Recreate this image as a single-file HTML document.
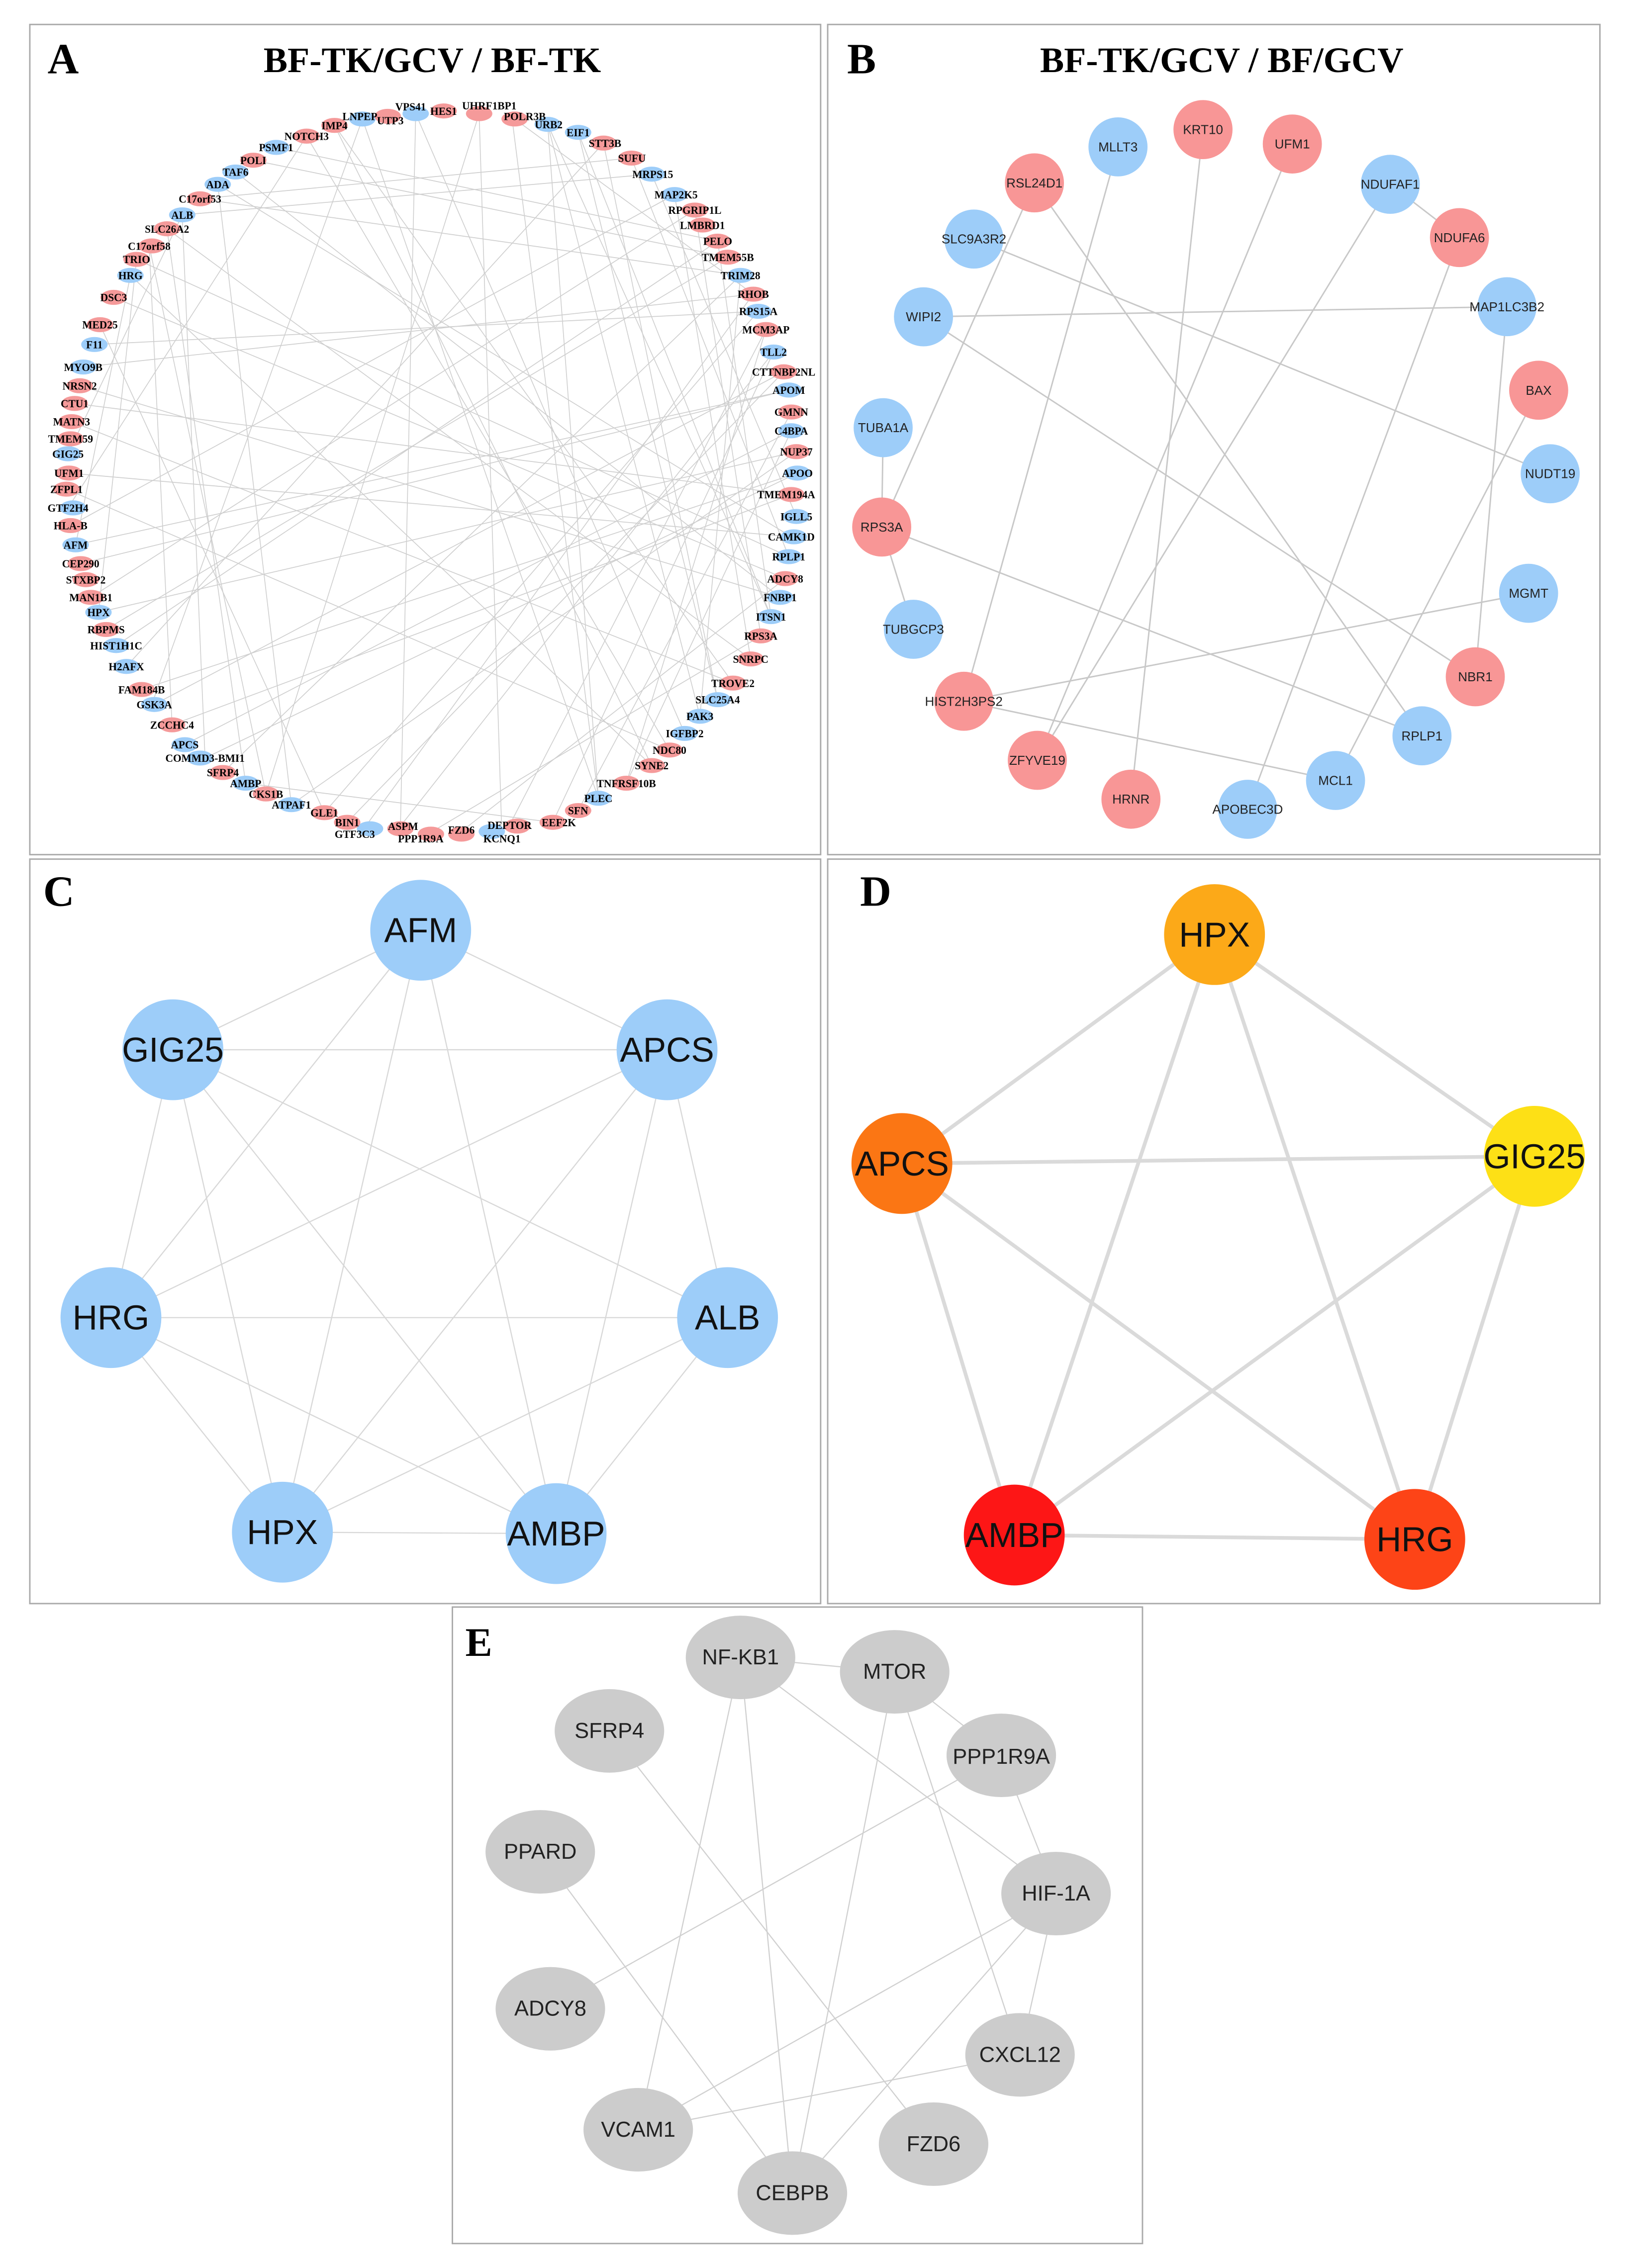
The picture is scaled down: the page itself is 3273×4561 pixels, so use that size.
<!DOCTYPE html>
<html><head><meta charset="utf-8"><style>html,body{margin:0;padding:0;background:#fff}svg{display:block}</style></head>
<body>
<svg xmlns="http://www.w3.org/2000/svg" width="3273" height="4561" viewBox="0 0 1130 1575" preserveAspectRatio="none">
<rect width="1130" height="1575" fill="#fff"/>
<g fill="none" stroke="#aaa" stroke-width="1">
<rect x="20.7" y="17" width="548.9" height="576.5"/>
<rect x="574.5" y="17" width="536" height="576.5"/>
<rect x="20.7" y="596.6" width="548.9" height="517"/>
<rect x="574.5" y="596.6" width="536" height="517"/>
<rect x="314" y="1116" width="479" height="442"/>
</g>
<g font-family="Liberation Serif, serif" font-weight="bold" fill="#000">
<text x="33" y="51" font-size="30">A</text>
<text x="300" y="50" font-size="25" text-anchor="middle">BF-TK/GCV / BF-TK</text>
<text x="588" y="51" font-size="30">B</text>
<text x="848" y="50" font-size="25" text-anchor="middle">BF-TK/GCV / BF/GCV</text>
<text x="30" y="629" font-size="30">C</text>
<text x="597" y="629" font-size="30">D</text>
<text x="323" y="1150" font-size="28">E</text>
</g>

<!-- Panel A -->
<g transform="translate(17.26,13.81) scale(0.3523,0.372)">
<g stroke="#cfcfcf" stroke-width="1.6">
<line x1="665" y1="185" x2="1130" y2="1453"/><line x1="665" y1="185" x2="250" y2="1278"/>
<line x1="770" y1="175" x2="1300" y2="1332"/><line x1="895" y1="175" x2="940" y2="1528"/>
<line x1="895" y1="175" x2="475" y2="1445"/><line x1="965" y1="185" x2="1435" y2="512"/>
<line x1="1030" y1="195" x2="1470" y2="1114"/><line x1="1090" y1="210" x2="1365" y2="1269"/>
<line x1="1140" y1="230" x2="200" y2="1207"/><line x1="1195" y1="258" x2="1505" y2="1002"/>
<line x1="1235" y1="288" x2="310" y2="364"/><line x1="1280" y1="326" x2="1430" y2="1193"/>
<line x1="1320" y1="355" x2="1450" y2="1150"/><line x1="1365" y1="413" x2="180" y2="1168"/>
<line x1="1385" y1="443" x2="450" y2="262"/><line x1="1410" y1="477" x2="345" y2="334"/>
<line x1="1435" y1="512" x2="115" y2="648"/><line x1="1435" y1="512" x2="660" y2="1520"/>
<line x1="1445" y1="544" x2="590" y2="1480"/><line x1="1460" y1="578" x2="1185" y2="1425"/>
<line x1="1475" y1="620" x2="1040" y2="1498"/><line x1="1495" y1="657" x2="255" y2="1278"/>
<line x1="1505" y1="691" x2="100" y2="980"/><line x1="1510" y1="732" x2="1090" y2="1476"/>
<line x1="1510" y1="767" x2="315" y2="1353"/><line x1="1520" y1="806" x2="145" y2="1106"/>
<line x1="1522" y1="846" x2="355" y2="1378"/><line x1="1510" y1="886" x2="98" y2="716"/>
<line x1="1520" y1="927" x2="1235" y2="288"/><line x1="1510" y1="965" x2="380" y2="307"/>
<line x1="1505" y1="1002" x2="220" y2="447"/><line x1="1498" y1="1043" x2="860" y2="1515"/>
<line x1="1488" y1="1078" x2="415" y2="284"/><line x1="1470" y1="1114" x2="1090" y2="210"/>
<line x1="1450" y1="1150" x2="780" y2="1528"/><line x1="1430" y1="1193" x2="280" y2="390"/>
<line x1="1395" y1="1238" x2="610" y2="197"/><line x1="1365" y1="1269" x2="1140" y2="230"/>
<line x1="1330" y1="1300" x2="1030" y2="195"/><line x1="1270" y1="1363" x2="555" y2="217"/>
<line x1="1235" y1="1392" x2="208" y2="477"/><line x1="1185" y1="1425" x2="1510" y2="767"/>
<line x1="1130" y1="1453" x2="960" y2="185"/><line x1="1040" y1="1498" x2="435" y2="1425"/>
<line x1="955" y1="1503" x2="1460" y2="578"/><line x1="740" y1="1505" x2="1475" y2="620"/>
<line x1="635" y1="1498" x2="1495" y2="657"/><line x1="525" y1="1465" x2="1520" y2="806"/>
<line x1="475" y1="1445" x2="245" y2="422"/><line x1="390" y1="1405" x2="1410" y2="477"/>
<line x1="290" y1="1316" x2="1510" y2="886"/><line x1="230" y1="1250" x2="1522" y2="846"/>
<line x1="160" y1="1138" x2="1385" y2="443"/><line x1="130" y1="1078" x2="1320" y2="355"/>
<line x1="110" y1="1015" x2="1505" y2="691"/><line x1="90" y1="944" x2="1280" y2="326"/>
<line x1="85" y1="911" x2="555" y2="217"/><line x1="82" y1="876" x2="1270" y2="1363"/>
<line x1="87" y1="846" x2="1510" y2="965"/><line x1="85" y1="810" x2="310" y2="364"/>
<line x1="92" y1="750" x2="1395" y2="1238"/><line x1="108" y1="683" x2="1488" y2="1078"/>
<line x1="137" y1="606" x2="1445" y2="544"/><line x1="148" y1="569" x2="590" y2="1480"/>
<line x1="175" y1="518" x2="1498" y2="1043"/><line x1="208" y1="477" x2="100" y2="980"/>
<line x1="220" y1="447" x2="145" y2="1106"/><line x1="280" y1="390" x2="435" y2="1425"/>
<line x1="345" y1="334" x2="1195" y2="258"/><line x1="380" y1="307" x2="525" y2="1465"/>
<line x1="495" y1="238" x2="1365" y2="413"/><line x1="610" y1="197" x2="1235" y2="1392"/>
<line x1="770" y1="175" x2="740" y2="1505"/><line x1="1030" y1="195" x2="1130" y2="1453"/>
<line x1="245" y1="422" x2="290" y2="1316"/><line x1="310" y1="364" x2="355" y2="1378"/>
<line x1="1365" y1="413" x2="1470" y2="1114"/><line x1="1410" y1="477" x2="1330" y2="1300"/>
</g>
<g>
<g fill="#9dcdf9">
<ellipse cx="665" cy="185" rx="26" ry="14"/><ellipse cx="770" cy="175" rx="26" ry="14"/>
<ellipse cx="1030" cy="195" rx="26" ry="14"/><ellipse cx="1090" cy="210" rx="26" ry="14"/>
<ellipse cx="1235" cy="288" rx="26" ry="14"/><ellipse cx="1280" cy="326" rx="26" ry="14"/>
<ellipse cx="1410" cy="477" rx="26" ry="14"/><ellipse cx="1445" cy="544" rx="26" ry="14"/>
<ellipse cx="1475" cy="620" rx="26" ry="14"/><ellipse cx="1505" cy="691" rx="26" ry="14"/>
<ellipse cx="1510" cy="767" rx="26" ry="14"/><ellipse cx="1522" cy="846" rx="26" ry="14"/>
<ellipse cx="1520" cy="927" rx="26" ry="14"/><ellipse cx="1515" cy="965" rx="26" ry="14"/>
<ellipse cx="1505" cy="1002" rx="26" ry="14"/><ellipse cx="1488" cy="1078" rx="26" ry="14"/>
<ellipse cx="1470" cy="1114" rx="26" ry="14"/><ellipse cx="1365" cy="1269" rx="26" ry="14"/>
<ellipse cx="1330" cy="1300" rx="26" ry="14"/><ellipse cx="1300" cy="1332" rx="26" ry="14"/>
<ellipse cx="1130" cy="1453" rx="26" ry="14"/><ellipse cx="920" cy="1515" rx="26" ry="14"/>
<ellipse cx="680" cy="1510" rx="26" ry="14"/><ellipse cx="525" cy="1465" rx="26" ry="14"/>
<ellipse cx="435" cy="1425" rx="26" ry="14"/><ellipse cx="345" cy="1378" rx="26" ry="14"/>
<ellipse cx="315" cy="1353" rx="26" ry="14"/><ellipse cx="255" cy="1278" rx="26" ry="14"/>
<ellipse cx="200" cy="1207" rx="26" ry="14"/><ellipse cx="180" cy="1168" rx="26" ry="14"/>
<ellipse cx="145" cy="1106" rx="26" ry="14"/><ellipse cx="100" cy="980" rx="26" ry="14"/>
<ellipse cx="95" cy="911" rx="26" ry="14"/><ellipse cx="85" cy="810" rx="26" ry="14"/>
<ellipse cx="115" cy="648" rx="26" ry="14"/><ellipse cx="137" cy="606" rx="26" ry="14"/>
<ellipse cx="208" cy="477" rx="26" ry="14"/><ellipse cx="310" cy="364" rx="26" ry="14"/>
<ellipse cx="380" cy="307" rx="26" ry="14"/><ellipse cx="415" cy="284" rx="26" ry="14"/>
<ellipse cx="495" cy="238" rx="26" ry="14"/>
</g>
<g fill="#f59a9a">
<ellipse cx="715" cy="180" rx="26" ry="14"/><ellipse cx="825" cy="170" rx="26" ry="14"/>
<ellipse cx="895" cy="175" rx="26" ry="14"/><ellipse cx="965" cy="185" rx="26" ry="14"/>
<ellipse cx="1140" cy="230" rx="26" ry="14"/><ellipse cx="1195" cy="258" rx="26" ry="14"/>
<ellipse cx="1320" cy="355" rx="26" ry="14"/><ellipse cx="1335" cy="383" rx="26" ry="14"/>
<ellipse cx="1365" cy="413" rx="26" ry="14"/><ellipse cx="1385" cy="443" rx="26" ry="14"/>
<ellipse cx="1435" cy="512" rx="26" ry="14"/><ellipse cx="1460" cy="578" rx="26" ry="14"/>
<ellipse cx="1495" cy="657" rx="26" ry="14"/><ellipse cx="1510" cy="732" rx="26" ry="14"/>
<ellipse cx="1520" cy="806" rx="26" ry="14"/><ellipse cx="1510" cy="886" rx="26" ry="14"/>
<ellipse cx="1498" cy="1043" rx="26" ry="14"/><ellipse cx="1450" cy="1150" rx="26" ry="14"/>
<ellipse cx="1430" cy="1193" rx="26" ry="14"/><ellipse cx="1395" cy="1238" rx="26" ry="14"/>
<ellipse cx="1270" cy="1363" rx="26" ry="14"/><ellipse cx="1235" cy="1392" rx="26" ry="14"/>
<ellipse cx="1185" cy="1425" rx="26" ry="14"/><ellipse cx="1090" cy="1476" rx="26" ry="14"/>
<ellipse cx="1040" cy="1498" rx="26" ry="14"/><ellipse cx="970" cy="1505" rx="26" ry="14"/>
<ellipse cx="860" cy="1520" rx="26" ry="14"/><ellipse cx="800" cy="1520" rx="26" ry="14"/>
<ellipse cx="740" cy="1510" rx="26" ry="14"/><ellipse cx="635" cy="1498" rx="26" ry="14"/>
<ellipse cx="590" cy="1480" rx="26" ry="14"/><ellipse cx="475" cy="1445" rx="26" ry="14"/>
<ellipse cx="390" cy="1405" rx="26" ry="14"/><ellipse cx="290" cy="1316" rx="26" ry="14"/>
<ellipse cx="230" cy="1250" rx="26" ry="14"/><ellipse cx="160" cy="1138" rx="26" ry="14"/>
<ellipse cx="130" cy="1078" rx="26" ry="14"/><ellipse cx="120" cy="1045" rx="26" ry="14"/>
<ellipse cx="110" cy="1015" rx="26" ry="14"/><ellipse cx="90" cy="944" rx="26" ry="14"/>
<ellipse cx="82" cy="876" rx="26" ry="14"/><ellipse cx="87" cy="846" rx="26" ry="14"/>
<ellipse cx="90" cy="782" rx="26" ry="14"/><ellipse cx="92" cy="750" rx="26" ry="14"/>
<ellipse cx="98" cy="716" rx="26" ry="14"/><ellipse cx="108" cy="683" rx="26" ry="14"/>
<ellipse cx="148" cy="569" rx="26" ry="14"/><ellipse cx="175" cy="518" rx="26" ry="14"/>
<ellipse cx="220" cy="447" rx="26" ry="14"/><ellipse cx="250" cy="422" rx="26" ry="14"/>
<ellipse cx="280" cy="390" rx="26" ry="14"/><ellipse cx="345" cy="334" rx="26" ry="14"/>
<ellipse cx="450" cy="262" rx="26" ry="14"/><ellipse cx="555" cy="217" rx="26" ry="14"/>
<ellipse cx="610" cy="197" rx="26" ry="14"/>
</g>
</g>
<g font-family="Liberation Serif, serif" font-weight="bold" font-size="21" fill="#000" text-anchor="middle" dominant-baseline="central">
<text x="660" y="180">LNPEP</text><text x="760" y="162">VPS41</text><text x="720" y="188">UTP3</text>
<text x="825" y="170">HES1</text><text x="915" y="160">UHRF1BP1</text><text x="985" y="180">POLR3B</text>
<text x="1032" y="195">URB2</text><text x="1090" y="210">EIF1</text><text x="1143" y="230">STT3B</text>
<text x="1196" y="258">SUFU</text><text x="1237" y="288">MRPS15</text><text x="1283" y="326">MAP2K5</text>
<text x="1320" y="355">RPGRIP1L</text><text x="1335" y="383">LMBRD1</text><text x="1365" y="413">PELO</text>
<text x="1385" y="443">TMEM55B</text><text x="1410" y="477">TRIM28</text><text x="1435" y="512">RHOB</text>
<text x="1445" y="544">RPS15A</text><text x="1460" y="578">MCM3AP</text><text x="1475" y="620">TLL2</text>
<text x="1495" y="657">CTTNBP2NL</text><text x="1505" y="691">APOM</text><text x="1510" y="732">GMNN</text>
<text x="1510" y="767">C4BPA</text><text x="1520" y="806">NUP37</text><text x="1522" y="846">APOO</text>
<text x="1500" y="886">TMEM194A</text><text x="1520" y="927">IGLL5</text><text x="1510" y="965">CAMK1D</text>
<text x="1505" y="1002">RPLP1</text><text x="1498" y="1043">ADCY8</text><text x="1488" y="1078">FNBP1</text>
<text x="1470" y="1114">ITSN1</text><text x="1450" y="1150">RPS3A</text><text x="1430" y="1193">SNRPC</text>
<text x="1395" y="1238">TROVE2</text><text x="1365" y="1269">SLC25A4</text><text x="1330" y="1300">PAK3</text>
<text x="1300" y="1332">IGFBP2</text><text x="1270" y="1363">NDC80</text><text x="1235" y="1392">SYNE2</text>
<text x="1185" y="1425">TNFRSF10B</text><text x="1130" y="1453">PLEC</text><text x="1090" y="1476">SFN</text>
<text x="1052" y="1498">EEF2K</text><text x="955" y="1503">DEPTOR</text><text x="940" y="1528">KCNQ1</text>
<text x="860" y="1512">FZD6</text><text x="780" y="1528">PPP1R9A</text><text x="745" y="1505">ASPM</text>
<text x="650" y="1520">GTF3C3</text><text x="635" y="1498">BIN1</text><text x="590" y="1480">GLE1</text>
<text x="525" y="1465">ATPAF1</text><text x="475" y="1445">CKS1B</text><text x="435" y="1425">AMBP</text>
<text x="390" y="1405">SFRP4</text><text x="355" y="1378">COMMD3-BMI1</text><text x="315" y="1353">APCS</text>
<text x="290" y="1316">ZCCHC4</text><text x="230" y="1250">FAM184B</text><text x="255" y="1278">GSK3A</text>
<text x="200" y="1207">H2AFX</text><text x="180" y="1168">HIST1H1C</text><text x="160" y="1138">RBPMS</text>
<text x="145" y="1106">HPX</text><text x="130" y="1078">MAN1B1</text><text x="120" y="1045">STXBP2</text>
<text x="110" y="1015">CEP290</text><text x="100" y="980">AFM</text><text x="90" y="944">HLA-B</text>
<text x="85" y="911">GTF2H4</text><text x="82" y="876">ZFPL1</text><text x="87" y="846">UFM1</text>
<text x="85" y="810">GIG25</text><text x="90" y="782">TMEM59</text><text x="92" y="750">MATN3</text>
<text x="98" y="716">CTU1</text><text x="108" y="683">NRSN2</text><text x="115" y="648">MYO9B</text>
<text x="137" y="606">F11</text><text x="148" y="569">MED25</text><text x="175" y="518">DSC3</text>
<text x="208" y="477">HRG</text><text x="220" y="447">TRIO</text><text x="245" y="422">C17orf58</text>
<text x="280" y="390">SLC26A2</text><text x="310" y="364">ALB</text><text x="345" y="334">C17orf53</text>
<text x="380" y="307">ADA</text><text x="415" y="284">TAF6</text><text x="450" y="262">POLI</text>
<text x="495" y="238">PSMF1</text><text x="555" y="217">NOTCH3</text><text x="610" y="197">IMP4</text>
</g>
</g>

<!-- Panel B -->
<g stroke="#c8c8c8" stroke-width="1">
<line x1="776" y1="102" x2="669" y2="487"/><line x1="835" y1="90" x2="785" y2="555"/>
<line x1="897" y1="100" x2="720" y2="528"/><line x1="965" y1="128" x2="720" y2="528"/>
<line x1="965" y1="128" x2="1013" y2="165"/><line x1="1013" y1="165" x2="866" y2="562"/>
<line x1="718" y1="127" x2="612" y2="366"/><line x1="718" y1="127" x2="987" y2="511"/>
<line x1="676" y1="166" x2="1076" y2="329"/><line x1="641" y1="220" x2="1046" y2="213"/>
<line x1="641" y1="220" x2="1024" y2="470"/><line x1="1046" y1="213" x2="1024" y2="470"/>
<line x1="1068" y1="271" x2="927" y2="542"/><line x1="613" y1="297" x2="612" y2="366"/>
<line x1="612" y1="366" x2="634" y2="437"/><line x1="612" y1="366" x2="987" y2="511"/>
<line x1="669" y1="487" x2="1061" y2="412"/><line x1="669" y1="487" x2="927" y2="542"/>
</g>
<g fill="#9dcdf9">
<circle cx="776" cy="102" r="20.5"/><circle cx="965" cy="128" r="20.5"/><circle cx="676" cy="166" r="20.5"/>
<circle cx="641" cy="220" r="20.5"/><circle cx="1046" cy="213" r="20.5"/><circle cx="1076" cy="329" r="20.5"/>
<circle cx="613" cy="297" r="20.5"/><circle cx="1061" cy="412" r="20.5"/><circle cx="634" cy="437" r="20.5"/>
<circle cx="987" cy="511" r="20.5"/><circle cx="927" cy="542" r="20.5"/><circle cx="866" cy="562" r="20.5"/>
</g>
<g fill="#f89696">
<circle cx="835" cy="90" r="20.5"/><circle cx="897" cy="100" r="20.5"/><circle cx="718" cy="127" r="20.5"/>
<circle cx="1013" cy="165" r="20.5"/><circle cx="1068" cy="271" r="20.5"/><circle cx="612" cy="366" r="20.5"/>
<circle cx="1024" cy="470" r="20.5"/><circle cx="669" cy="487" r="20.5"/><circle cx="720" cy="528" r="20.5"/>
<circle cx="785" cy="555" r="20.5"/>
</g>
<g font-family="Liberation Sans, sans-serif" font-size="9" fill="#222" text-anchor="middle" dominant-baseline="central">
<text x="776" y="102">MLLT3</text><text x="965" y="128">NDUFAF1</text><text x="676" y="166">SLC9A3R2</text>
<text x="641" y="220">WIPI2</text><text x="1046" y="213">MAP1LC3B2</text><text x="1076" y="329">NUDT19</text>
<text x="613" y="297">TUBA1A</text><text x="1061" y="412">MGMT</text><text x="634" y="437">TUBGCP3</text>
<text x="987" y="511">RPLP1</text><text x="927" y="542">MCL1</text><text x="866" y="562">APOBEC3D</text>
<text x="835" y="90">KRT10</text><text x="897" y="100">UFM1</text><text x="718" y="127">RSL24D1</text>
<text x="1013" y="165">NDUFA6</text><text x="1068" y="271">BAX</text><text x="612" y="366">RPS3A</text>
<text x="1024" y="470">NBR1</text><text x="669" y="487">HIST2H3PS2</text><text x="720" y="528">ZFYVE19</text>
<text x="785" y="555">HRNR</text>
</g>

<!-- Panel C -->
<g stroke="#d8d8d8" stroke-width="0.8">
<line x1="292" y1="646" x2="120" y2="729"/><line x1="292" y1="646" x2="463" y2="729"/>
<line x1="292" y1="646" x2="77" y2="915"/><line x1="292" y1="646" x2="196" y2="1064"/>
<line x1="292" y1="646" x2="386" y2="1065"/><line x1="120" y1="729" x2="463" y2="729"/>
<line x1="120" y1="729" x2="77" y2="915"/><line x1="120" y1="729" x2="196" y2="1064"/>
<line x1="120" y1="729" x2="386" y2="1065"/><line x1="120" y1="729" x2="505" y2="915"/>
<line x1="463" y1="729" x2="77" y2="915"/><line x1="463" y1="729" x2="196" y2="1064"/>
<line x1="463" y1="729" x2="386" y2="1065"/><line x1="463" y1="729" x2="505" y2="915"/>
<line x1="77" y1="915" x2="505" y2="915"/><line x1="77" y1="915" x2="196" y2="1064"/>
<line x1="77" y1="915" x2="386" y2="1065"/><line x1="505" y1="915" x2="196" y2="1064"/>
<line x1="505" y1="915" x2="386" y2="1065"/><line x1="196" y1="1064" x2="386" y2="1065"/>
</g>
<g fill="#9dcdf9">
<circle cx="292" cy="646" r="35"/><circle cx="120" cy="729" r="35"/><circle cx="463" cy="729" r="35"/>
<circle cx="77" cy="915" r="35"/><circle cx="505" cy="915" r="35"/><circle cx="196" cy="1064" r="35"/>
<circle cx="386" cy="1065" r="35"/>
</g>
<g font-family="Liberation Sans, sans-serif" font-size="24" fill="#111" text-anchor="middle" dominant-baseline="central">
<text x="292" y="646">AFM</text><text x="120" y="729">GIG25</text><text x="463" y="729">APCS</text>
<text x="77" y="915">HRG</text><text x="505" y="915">ALB</text><text x="196" y="1064">HPX</text><text x="386" y="1065">AMBP</text>
</g>

<!-- Panel D -->
<g stroke="#dadada" stroke-width="2.6">
<line x1="843" y1="649" x2="626" y2="808"/><line x1="843" y1="649" x2="1065" y2="803"/>
<line x1="843" y1="649" x2="704" y2="1066"/><line x1="843" y1="649" x2="982" y2="1069"/>
<line x1="626" y1="808" x2="1065" y2="803"/><line x1="626" y1="808" x2="704" y2="1066"/>
<line x1="626" y1="808" x2="982" y2="1069"/><line x1="1065" y1="803" x2="704" y2="1066"/>
<line x1="1065" y1="803" x2="982" y2="1069"/><line x1="704" y1="1066" x2="982" y2="1069"/>
</g>
<circle cx="843" cy="649" r="35" fill="#fca918"/>
<circle cx="626" cy="808" r="35" fill="#fb7614"/>
<circle cx="1065" cy="803" r="35" fill="#fde016"/>
<circle cx="704" cy="1066" r="35" fill="#fd1616"/>
<circle cx="982" cy="1069" r="35" fill="#fd4417"/>
<g font-family="Liberation Sans, sans-serif" font-size="24" fill="#111" text-anchor="middle" dominant-baseline="central">
<text x="843" y="649">HPX</text><text x="626" y="808">APCS</text><text x="1065" y="803">GIG25</text>
<text x="704" y="1066">AMBP</text><text x="982" y="1069">HRG</text>
</g>

<!-- Panel E -->
<g stroke="#d0d0d0" stroke-width="0.8">
<line x1="514" y1="1151" x2="621" y2="1161"/><line x1="514" y1="1151" x2="733" y2="1315"/>
<line x1="514" y1="1151" x2="443" y2="1479"/><line x1="514" y1="1151" x2="550" y2="1523"/>
<line x1="621" y1="1161" x2="695" y2="1219"/><line x1="621" y1="1161" x2="708" y2="1427"/>
<line x1="621" y1="1161" x2="550" y2="1523"/><line x1="423" y1="1202" x2="648" y2="1489"/>
<line x1="375" y1="1286" x2="550" y2="1523"/><line x1="695" y1="1219" x2="382" y2="1395"/>
<line x1="695" y1="1219" x2="733" y2="1315"/><line x1="733" y1="1315" x2="443" y2="1479"/>
<line x1="733" y1="1315" x2="550" y2="1523"/><line x1="733" y1="1315" x2="708" y2="1427"/>
<line x1="708" y1="1427" x2="443" y2="1479"/>
</g>
<g fill="#cccccc">
<ellipse cx="514" cy="1151" rx="38" ry="29"/><ellipse cx="621" cy="1161" rx="38" ry="29"/>
<ellipse cx="423" cy="1202" rx="38" ry="29"/><ellipse cx="695" cy="1219" rx="38" ry="29"/>
<ellipse cx="375" cy="1286" rx="38" ry="29"/><ellipse cx="733" cy="1315" rx="38" ry="29"/>
<ellipse cx="382" cy="1395" rx="38" ry="29"/><ellipse cx="708" cy="1427" rx="38" ry="29"/>
<ellipse cx="443" cy="1479" rx="38" ry="29"/><ellipse cx="648" cy="1489" rx="38" ry="29"/>
<ellipse cx="550" cy="1523" rx="38" ry="29"/>
</g>
<g font-family="Liberation Sans, sans-serif" font-size="15" fill="#222" text-anchor="middle" dominant-baseline="central">
<text x="514" y="1151">NF-KB1</text><text x="621" y="1161">MTOR</text><text x="423" y="1202">SFRP4</text>
<text x="695" y="1220">PPP1R9A</text><text x="375" y="1286">PPARD</text><text x="733" y="1315">HIF-1A</text>
<text x="382" y="1395">ADCY8</text><text x="708" y="1427">CXCL12</text><text x="443" y="1479">VCAM1</text>
<text x="648" y="1489">FZD6</text><text x="550" y="1523">CEBPB</text>
</g>
</svg>
</body></html>
